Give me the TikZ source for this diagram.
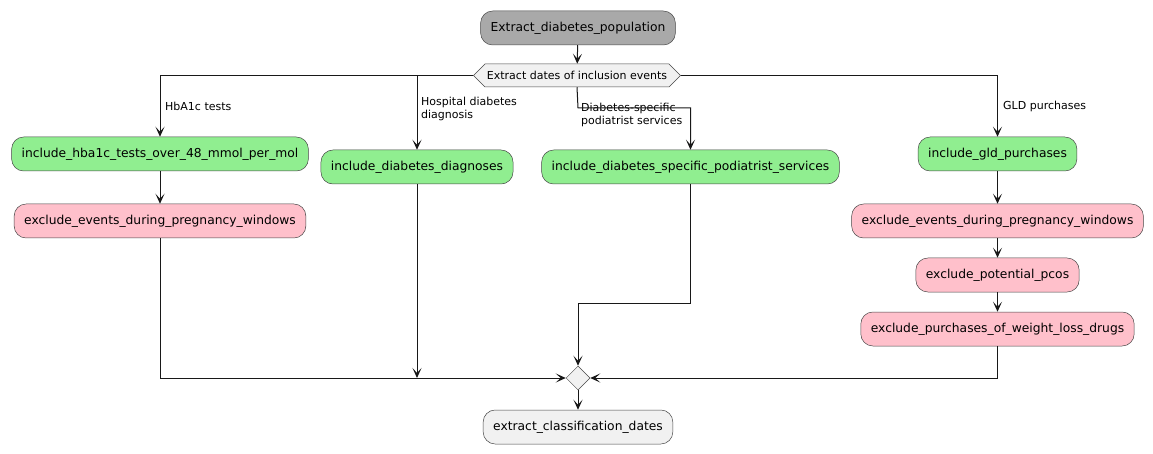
\documentclass[tikz,border=0pt]{standalone}
\usepackage{fontspec}
\setmainfont{DejaVu Sans}
\usetikzlibrary{arrows.meta,shapes.geometric,shapes.symbols}
\definecolor{grn}{HTML}{90EE90}
\definecolor{pnk}{HTML}{FFC0CB}
\definecolor{gry}{HTML}{A9A9A9}
\definecolor{lgry}{HTML}{F1F1F1}
\definecolor{ln}{HTML}{181818}
\begin{document}
\begin{tikzpicture}[x=1pt,y=-1pt,
  act/.style={draw=ln!80, line width=0.5pt, rounded corners=12pt, minimum height=34pt, inner xsep=10pt, inner ysep=0pt, font=\fontsize{12.3}{14}\selectfont},
  green act/.style={act, fill=grn},
  pink act/.style={act, fill=pnk},
  conn/.style={draw=ln, line width=1pt, -{Stealth[length=10pt,width=9pt,inset=5pt]}},
  lbl/.style={anchor=west, align=left, inner sep=0pt, font=\fontsize{11}{13}\selectfont}]
\useasboundingbox (0,0) rectangle (1153,454);
\fill[white] (0,0) rectangle (1153,454);

\node[act, fill=gry] (start) at (578,28) {Extract\_diabetes\_population};
\node[signal, signal to=west and east, draw=ln!80, line width=0.5pt, fill=lgry, minimum height=23pt, inner xsep=2pt, inner ysep=0pt, font=\fontsize{11}{13}\selectfont] (hex) at (577,75.5) {Extract dates of inclusion events};

\node[green act] (hb) at (160,154) {include\_hba1c\_tests\_over\_48\_mmol\_per\_mol};
\node[pink act] (hbx) at (160,221) {exclude\_events\_during\_pregnancy\_windows};
\node[green act] (dd) at (417,167) {include\_diabetes\_diagnoses};
\node[green act] (pod) at (690.5,167) {include\_diabetes\_specific\_podiatrist\_services};
\node[green act] (gld) at (997.5,154) {include\_gld\_purchases};
\node[pink act] (gx1) at (997.5,221) {exclude\_events\_during\_pregnancy\_windows};
\node[pink act] (gx2) at (997.5,275) {exclude\_potential\_pcos};
\node[pink act] (gx3) at (997.5,329) {exclude\_purchases\_of\_weight\_loss\_drugs};

\node[diamond, draw=ln!80, line width=0.5pt, fill=lgry, minimum width=24pt, minimum height=24pt, inner sep=0pt] (mrg) at (578,378) {};
\node[act, fill=lgry] (fin) at (578,427) {extract\_classification\_dates};

\node[lbl] (l1) at (165,106) {HbA1c tests};
\node[lbl] (l2) at (421,108.5) {Hospital diabetes\\diagnosis};
\node[lbl] (l3) at (581,114.5) {Diabetes-specific\\podiatrist services};
\node[lbl] (l4) at (1003,106) {GLD purchases};

\coordinate (b3) at (578,108);
\coordinate (j3) at (578,303);

\draw[conn] (start) -- (hex);
\draw[conn] (hex.west) -| (hb.north);
\draw[conn] (hex.west) -| (dd.north);
\draw[conn] (hex.south) -- (b3) -| (pod.north);
\draw[conn] (hex.east) -| (gld.north);

\draw[conn] (hb) -- (hbx);
\draw[conn] (gld) -- (gx1);
\draw[conn] (gx1) -- (gx2);
\draw[conn] (gx2) -- (gx3);

\draw[conn] (hbx.south) |- (mrg.west);
\draw[conn] (dd.south) -- (dd.south |- mrg.west);
\draw[conn] (pod.south) |- (j3) -- (mrg.north);
\draw[conn] (gx3.south) |- (mrg.east);
\draw[conn] (mrg) -- (fin);
\end{tikzpicture}
\end{document}
